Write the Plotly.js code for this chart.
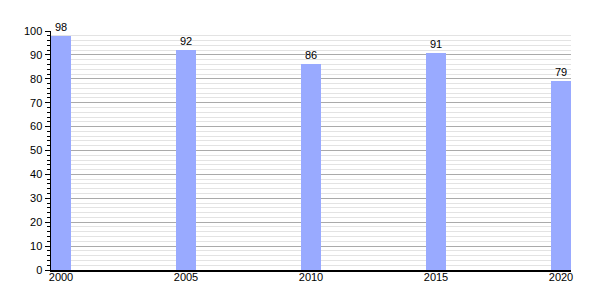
<!DOCTYPE html>
<html><head><meta charset="utf-8">
<script src="https://cdn.plot.ly/plotly-3.0.1.min.js"></script>
<style>body{margin:0;background:#fff}</style>
</head><body><div id="chart" style="width:600px;height:300px"></div>
<script>
const years = [2000, 2005, 2010, 2015, 2020];
const values = [98, 92, 86, 91, 79];
const yTicks = [0,10,20,30,40,50,60,70,80,90,100];

Plotly.newPlot('chart', [{
  type: 'bar',
  x: years,
  y: values,
  width: 0.8,
  marker: {color: '#99aaff', line: {width: 0}},
  text: values.map(String),
  textposition: 'outside',
  cliponaxis: false,
  textfont: {family: 'Liberation Sans, Arial, sans-serif', size: 11, color: '#000'},
  hoverinfo: 'none'
}], {
  width: 600, height: 300,
  margin: {l: 51, r: 29, t: 31, b: 30},
  paper_bgcolor: '#fff', plot_bgcolor: '#fff',
  showlegend: false,
  font: {family: 'Liberation Sans, Arial, sans-serif', size: 11, color: '#000'},
  xaxis: {
    range: [1999.6, 2020.4],
    tickvals: years,
    ticktext: years.map(String),
    showgrid: false, zeroline: false,
    showline: true, linecolor: '#000', linewidth: 1.5,
    ticks: '', ticklen: 0,
    ticklabelstandoff: -4
  },
  yaxis: {
    range: [0, 100],
    tickvals: yTicks,
    showgrid: true, gridcolor: '#aaaaaa', gridwidth: 1,
    zeroline: false,
    showline: true, linecolor: '#000', linewidth: 1.5,
    ticks: 'outside', ticklen: 5, tickcolor: '#000', tickwidth: 1,
    minor: {dtick: 2, showgrid: true, gridcolor: '#e3e3e3', gridwidth: 1, ticks: 'outside', ticklen: 3, tickcolor: '#000'}
  },
  bargap: 0
}, {displayModeBar: false, staticPlot: true});
</script></body></html>
